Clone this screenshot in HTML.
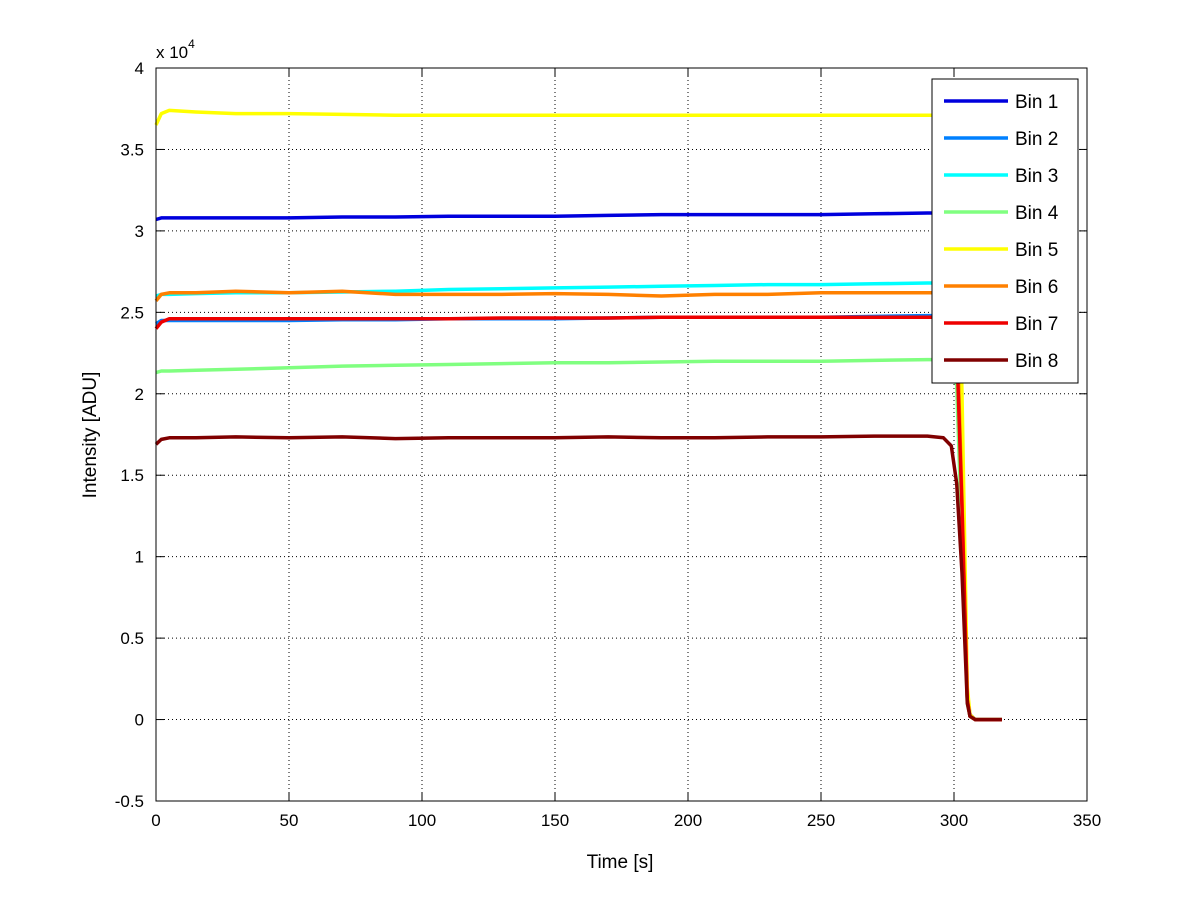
<!DOCTYPE html>
<html><head><meta charset="utf-8"><style>
body{margin:0;background:#fff;}
svg text{font-family:"Liberation Sans",sans-serif;}
</style></head><body>
<svg id="chart" width="1200" height="901" viewBox="0 0 1200 901" xmlns="http://www.w3.org/2000/svg">
<rect width="1200" height="901" fill="#fff"/>
<g id="grid"></g>
<g id="series"></g>
<rect x="156" y="68" width="931" height="733" fill="none" stroke="#000" stroke-width="1"/>
<g id="ticks"></g>
<text x="156" y="58" font-size="17">x 10<tspan font-size="12" dy="-10">4</tspan></text>
<text x="620" y="868" font-size="19" text-anchor="middle">Time [s]</text>
<text transform="translate(96,435) rotate(-90)" font-size="19" text-anchor="middle">Intensity [ADU]</text>
<g id="legend"></g>
</svg>
<script>
const xTicks=[0,50,100,150,200,250,300,350];
const yTicks=[-0.5,0,0.5,1,1.5,2,2.5,3,3.5,4];
const yTickLabels=["-0.5","0","0.5","1","1.5","2","2.5","3","3.5","4"];
const seriesNames=["Bin 1","Bin 2","Bin 3","Bin 4","Bin 5","Bin 6","Bin 7","Bin 8"];
const times=[0,2,5,15,30,50,70,90,110,130,150,170,190,210,230,250,270,290,296,299,301,303,305,306,308,312,318];
const bin1=[3.07,3.08,3.08,3.08,3.08,3.08,3.085,3.085,3.09,3.09,3.09,3.095,3.10,3.10,3.10,3.10,3.105,3.11,3.11,3.11,2.9,1.6,0.15,0.03,0,0,0];
const bin2=[2.43,2.45,2.45,2.45,2.45,2.45,2.455,2.455,2.46,2.46,2.46,2.465,2.47,2.47,2.47,2.47,2.475,2.48,2.48,2.48,2.3,1.3,0.12,0.02,0,0,0];
const bin3=[2.60,2.61,2.61,2.615,2.62,2.62,2.625,2.63,2.64,2.645,2.65,2.655,2.66,2.665,2.67,2.67,2.675,2.68,2.68,2.68,2.5,1.4,0.13,0.02,0,0,0];
const bin4=[2.13,2.14,2.14,2.145,2.15,2.16,2.17,2.175,2.18,2.185,2.19,2.19,2.195,2.20,2.20,2.20,2.205,2.21,2.21,2.21,2.05,1.1,0.1,0.02,0,0,0];
const bin5=[3.65,3.72,3.74,3.73,3.72,3.72,3.715,3.71,3.71,3.71,3.71,3.71,3.71,3.71,3.71,3.71,3.71,3.71,3.71,3.71,3.5,2.0,0.2,0.03,0,0,0];
const bin6=[2.57,2.61,2.62,2.62,2.63,2.62,2.63,2.61,2.61,2.61,2.615,2.61,2.60,2.61,2.61,2.62,2.62,2.62,2.62,2.62,2.45,1.35,0.12,0.02,0,0,0];
const bin7=[2.40,2.44,2.46,2.46,2.46,2.46,2.46,2.46,2.46,2.465,2.465,2.465,2.47,2.47,2.47,2.47,2.47,2.47,2.47,2.47,2.3,1.3,0.12,0.02,0,0,0];
const bin8=[1.69,1.72,1.73,1.73,1.735,1.73,1.735,1.725,1.73,1.73,1.73,1.735,1.73,1.73,1.735,1.735,1.74,1.74,1.73,1.68,1.45,0.9,0.1,0.02,0,0,0];
const allSeries=[bin1,bin2,bin3,bin4,bin5,bin6,bin7,bin8];
const colors=["#0000dd","#0080ff","#00ffff","#80ff80","#ffff00","#ff8000","#ee0000","#800000"];
const NS="http://www.w3.org/2000/svg";
const X0=156,X1=1087,Y0=801,Y1=68;
const xs=v=>X0+(v-0)/(350-0)*(X1-X0);
const ys=v=>Y0-(v-(-0.5))/(4-(-0.5))*(Y0-Y1);
function mk(tag,parent,attrs){const e=document.createElementNS(NS,tag);for(const k in attrs)e.setAttribute(k,attrs[k]);parent.appendChild(e);return e;}
const grid=document.getElementById('grid'),ticks=document.getElementById('ticks');
xTicks.forEach((t,i)=>{const x=xs(t);
 if(i>0&&i<xTicks.length-1){const g=mk('line',grid,{x1:x,x2:x,y1:Y1,y2:Y0,stroke:'#000','stroke-width':1,'stroke-dasharray':'1,3'});}
 mk('line',ticks,{x1:x,x2:x,y1:Y0,y2:Y0-8,stroke:'#000'});mk('line',ticks,{x1:x,x2:x,y1:Y1,y2:Y1+8,stroke:'#000'});
 const tx=mk('text',ticks,{x:x,y:Y0+25,'font-size':17,'text-anchor':'middle'});tx.textContent=t;
 
 });
yTicks.forEach((t,i)=>{const y=ys(t);
 if(i>0&&i<yTicks.length-1){const g=mk('line',grid,{x1:X0,x2:X1,y1:y,y2:y,stroke:'#000','stroke-width':1,'stroke-dasharray':'1,3'});}
 mk('line',ticks,{x1:X0,x2:X0+8,y1:y,y2:y,stroke:'#000'});mk('line',ticks,{x1:X1,x2:X1-8,y1:y,y2:y,stroke:'#000'});
 const tx=mk('text',ticks,{x:X0-12,y:y+6,'font-size':17,'text-anchor':'end'});tx.textContent=yTickLabels[i];
 
 });
const sg=document.getElementById('series');
allSeries.forEach((s,k)=>{const d=s.map((v,i)=>(i?'L':'M')+xs(times[i]).toFixed(1)+','+ys(v).toFixed(1)).join(' ');
 const p=mk('path',sg,{d:d,fill:'none',stroke:colors[k],'stroke-width':3.5,'stroke-linejoin':'round'});
 
 });
const lg=document.getElementById('legend');
const box=mk('rect',lg,{x:932,y:79,width:146,height:304,fill:'#fff',stroke:'#000'});


seriesNames.forEach((n,k)=>{const y=101+k*37;
 const g=mk('g',lg,{});
 
 
 mk('line',g,{x1:944,x2:1008,y1:y,y2:y,stroke:colors[k],'stroke-width':3.5});
 const t=mk('text',g,{x:1015,y:y+7,'font-size':19});t.textContent=n;});
</script>
</body></html>
